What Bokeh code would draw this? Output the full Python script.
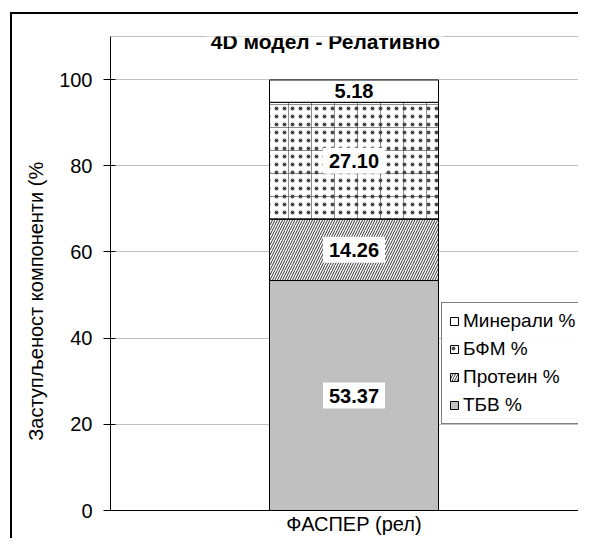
import numpy as np
from bokeh.plotting import figure
from bokeh.models import (ColumnDataSource, Range1d, FixedTicker, Label,
                          Span, Legend, LegendItem)
from bokeh.embed import file_html
from bokeh.resources import INLINE

# ---- data ----
categories = ["ФАСПЕР (рел)"]
series_names = ["ТБВ %", "Протеин %", "БФМ %", "Минерали %"]
tbv = [53.37]
protein = [14.26]
bfm = [27.10]
minerali = [5.18]
y_ticks = [0, 20, 40, 60, 80, 100]
chart_title = "4D модел - Релативно"
y_title = "Заступљеност компоненти (%"

FONT = "Liberation Sans"
BAR_W = 0.6
X_START, X_END = -0.8645, 0.797

p = figure(width=578, height=538, output_backend="svg", toolbar_location=None,
           x_range=Range1d(X_START, X_END), y_range=Range1d(0, 110),
           min_border_left=110, min_border_right=0, min_border_top=36, min_border_bottom=28)
p.outline_line_color = None
p.background_fill_color = "white"
p.border_fill_color = None
# outer chart border (left and top edges) drawn as host-element background
p.styles = {
    "background-color": "white",
    "background-image": "linear-gradient(black, black), linear-gradient(black, black)",
    "background-size": "2px 100%, 100% 2px",
    "background-position": "10px 12px, 10px 12px",
    "background-repeat": "no-repeat",
}

xs = list(range(len(categories)))
vals = [tbv, protein, bfm, minerali]
bottoms = np.cumsum([[0] * len(xs)] + vals[:-1], axis=0)
tops = np.cumsum(vals, axis=0)

styles = [
    dict(fill_color="#c0c0c0"),
    dict(fill_color="white", hatch_pattern="/", hatch_scale=5, hatch_weight=0.8, hatch_color="black"),
    dict(fill_color="white", hatch_pattern=".", hatch_scale=8, hatch_weight=0.5,
         hatch_color="black", hatch_alpha=0.7),
    dict(fill_color="white"),
]
renderers = []
for i, name in enumerate(series_names):
    src = ColumnDataSource(dict(x=xs, bottom=bottoms[i], top=tops[i]))
    r = p.vbar(x="x", bottom="bottom", top="top", width=BAR_W, source=src,
               line_color="black", line_width=1, **styles[i])
    if i == 2:
        p.vbar(x="x", bottom="bottom", top="top", width=BAR_W, source=src,
               fill_alpha=0, line_color="black", line_width=1,
               hatch_pattern="+", hatch_scale=23, hatch_weight=0.6, hatch_color="#404040")
    renderers.append(r)

# data labels (white boxes)
for i, v in enumerate(vals):
    mid = (bottoms[i][0] + tops[i][0]) / 2
    pad = (6, 6) if v[0] > 10 else (6, 0)
    p.add_layout(Label(x=xs[0], y=mid, text="%.2f" % v[0], text_align="center",
                       text_baseline="middle", text_font=FONT, text_font_size="20px",
                       text_font_style="bold", text_color="black",
                       background_fill_color="white", padding=pad))

# grid
p.xgrid.grid_line_color = None
p.ygrid.grid_line_color = "#c0c0c0"
p.ygrid.ticker = FixedTicker(ticks=y_ticks[1:])

# top line of plot area
p.add_layout(Span(location=110, dimension="width", line_color="#808080", line_width=1))

# axes
p.yaxis.ticker = FixedTicker(ticks=y_ticks)
p.yaxis.major_label_text_font = FONT
p.yaxis.major_label_text_font_size = "20px"
p.yaxis.major_label_text_color = "black"
p.yaxis.major_tick_out = 7
p.yaxis.major_tick_in = 5
p.yaxis.minor_tick_line_color = None
p.yaxis.major_label_standoff = 11
p.yaxis.axis_line_color = "black"
p.yaxis.major_tick_line_color = "black"
p.yaxis.axis_label = y_title + "\u00a0" * 10
p.yaxis.axis_label_text_font = FONT
p.yaxis.axis_label_text_font_size = "20px"
p.yaxis.axis_label_text_font_style = "normal"
p.yaxis.axis_label_text_color = "black"
p.yaxis.axis_label_standoff = 9

p.xaxis.ticker = FixedTicker(ticks=xs)
p.xaxis.major_label_overrides = {xs[0]: categories[0]}
p.xaxis.major_label_text_font = FONT
p.xaxis.major_label_text_font_size = "20px"
p.xaxis.major_label_text_color = "black"
p.xaxis.major_tick_out = 0
p.xaxis.major_tick_in = 0
p.xaxis.minor_tick_out = 0
p.xaxis.minor_tick_in = 0
p.xaxis.major_label_standoff = 2
p.xaxis.axis_line_color = "black"

# title
p.add_layout(Label(x=-0.1012, y=110, y_offset=-5, text=chart_title, text_align="center",
                   text_baseline="middle", text_font=FONT, text_font_size="21px",
                   text_font_style="bold", text_color="black", background_fill_color="white",
                   padding=(4, 0)))

legend = Legend(items=[LegendItem(label=series_names[i], renderers=[renderers[i]])
                       for i in reversed(range(len(series_names)))],
                location=(331, 86), glyph_width=10, glyph_height=10,
                label_text_font=FONT, label_text_font_size="19px", label_text_color="black",
                label_height=20, spacing=6, padding=7, margin=0, label_standoff=4,
                border_line_color="black", border_line_width=1, background_fill_color="white")
p.add_layout(legend)

open("out.html", "w").write(file_html(p, INLINE))
